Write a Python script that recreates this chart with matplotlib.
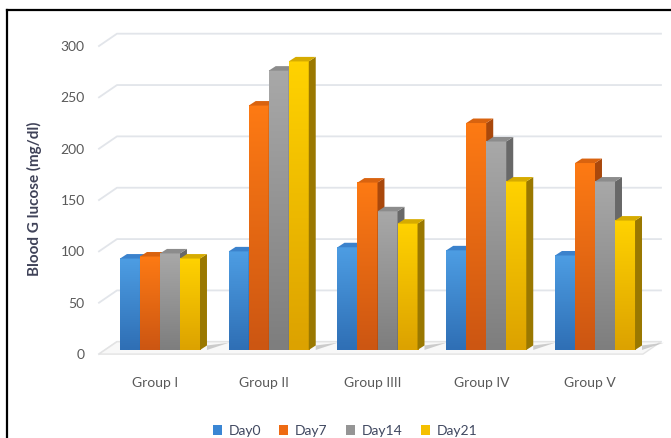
import numpy as np
import matplotlib.pyplot as plt
from matplotlib.patches import Polygon, Patch
from matplotlib.colors import LinearSegmentedColormap
from matplotlib.lines import Line2D

plt.rcParams['font.family'] = ['Lato', 'DejaVu Sans']

groups = ['Group I', 'Group II', 'Group IIII', 'Group IV', 'Group V']
series = ['Day0', 'Day7', 'Day14', 'Day21']
day0 = [89, 96, 100, 97, 92]
day7 = [91, 238, 163, 221, 182]
day14 = [94, 272, 135, 203, 164]
day21 = [89, 281, 123, 164, 126]
values = [day0, day7, day14, day21]
yticks = [0, 50, 100, 150, 200, 250, 300]

front_top = ['#4d9de3', '#fd7a14', '#a8a8a8', '#ffd200']
front_bot = ['#2f6fb5', '#cc5612', '#7e7e7e', '#dca200']
side_col = ['#2a5c93', '#a9480c', '#686868', '#9a7800']
top_col = ['#3b82cc', '#d9630f', '#8c8c8c', '#d6ab00']
legend_col = ['#3a86d4', '#ee6a12', '#959595', '#f5c000']

fig = plt.figure(figsize=(6.71, 4.38), dpi=100)
ax = fig.add_axes([0.1341, 0.1658, 0.857, 0.7737])
ax.axis('off')

bw = 0.184            # bar width (group units)
ddx, ddy = 0.064, 4.4  # bar depth offsets
wdx, wdy = 0.1655, 12  # wall depth offsets
f0 = -4               # front edge of floor/gridlines
gx0, gx1 = -0.561, 4.441

# floor
ax.add_patch(Polygon([(gx0, f0), (gx1, f0), (gx1 + wdx, f0 + wdy), (gx0 + wdx, f0 + wdy)],
                     closed=True, facecolor='#f8f8f8', edgecolor='#e3e3e3', lw=1, zorder=1))

# gridlines on the back wall
for v in yticks:
    ax.plot([gx0, gx0 + wdx, gx1 + wdx], [v + f0, v + f0 + wdy, v + f0 + wdy],
            color='#e2e5ea', lw=1.3, zorder=0.5)
    ax.text(gx0 - 0.13, v - 4.9, str(v), ha='right', va='center',
            fontsize=10, color='#595959')

x = np.arange(len(groups))
for j, vals in enumerate(values):
    cmap = LinearSegmentedColormap.from_list('g%d' % j, [front_top[j], front_bot[j]])
    bars = ax.bar(x + (j - 1.5) * bw, vals, bw, color=front_bot[j], zorder=3 + j)
    for rect in bars:
        l = rect.get_x()
        r = l + rect.get_width()
        h = rect.get_height()
        ax.imshow(np.linspace(0, 1, 64).reshape(-1, 1), cmap=cmap, aspect='auto',
                  extent=(l, r, 0, h), origin='upper', interpolation='bilinear',
                  zorder=3 + j + 0.1)
        ax.add_patch(Polygon([(r, 0), (r + ddx, ddy), (r + ddx, h + ddy), (r, h)],
                             closed=True, facecolor=side_col[j], edgecolor='none',
                             zorder=3 + j + 0.5))
        ax.add_patch(Polygon([(l, h), (r, h), (r + ddx, h + ddy), (l + ddx, h + ddy)],
                             closed=True, facecolor=top_col[j], edgecolor='none',
                             zorder=3 + j + 0.5))

# soft shadows on the floor to the right of each cluster
for i in x:
    r = i + 2 * bw + ddx
    ax.add_patch(Polygon([(r, 0), (r, ddy), (r + 0.2, f0 + wdy - 1)],
                         closed=True, facecolor='#b9b9b9', edgecolor='none',
                         alpha=0.7, zorder=2))

for i, g in enumerate(groups):
    ax.text(i - 0.045, -32, g, ha='center', va='center', fontsize=10, color='#595959')

ax.set_xlim(-0.6437, 4.6437)
ax.set_ylim(-15, 315)

fig.text(34 / 671, 1 - 199 / 438, 'Blood G lucose (mg/dl)', rotation=90,
         ha='center', va='center', fontsize=11, fontweight='bold', color='#3f4258')

handles = [Patch(facecolor=c) for c in legend_col]
fig.legend(handles, series, loc='center', bbox_to_anchor=(345 / 671, 1 - 431 / 438),
           ncol=4, frameon=False, fontsize=10, handlelength=0.65, handleheight=0.65,
           handletextpad=0.5, columnspacing=1.3, labelcolor='#404860')

# outer frame (left and top edges)
fig.add_artist(Line2D([7 / 671, 7 / 671], [0, 1 - 10 / 438], transform=fig.transFigure,
                      color='black', lw=1.6))
fig.add_artist(Line2D([7 / 671, 1], [1 - 10 / 438, 1 - 10 / 438], transform=fig.transFigure,
                      color='black', lw=1.6))

fig.savefig('out.png', dpi=100)
